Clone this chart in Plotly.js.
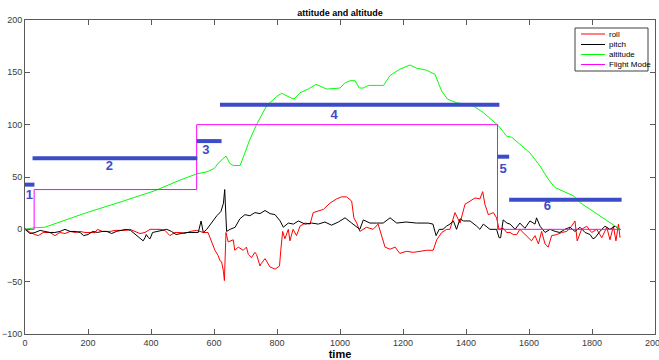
<!DOCTYPE html>
<html>
<head>
<meta charset="utf-8">
<script src="https://cdn.plot.ly/plotly-3.0.1.min.js"></script>
<style>html,body{margin:0;padding:0;background:#fff;}#chart{width:659px;height:360px;}</style>
</head>
<body>
<div id="chart"></div>
<script>
// ---- data ----
const rollX = [0,16,32,42,58,79,95,111,127,143,159,175,190,206,222,230,246,270,286,302,320,333,349,365,381,397,413,429,444,460,476,492,508,524,545,566,581,587,603,613,619,624,630,633,636,638,645,651,661,666,677,693,703,709,719,730,735,746,749,762,778,794,808,812,818,825,836,841,851,862,873,889,905,915,947,968,989,1005,1021,1037,1044,1053,1063,1084,1105,1121,1132,1143,1159,1175,1190,1211,1233,1254,1275,1296,1307,1323,1339,1349,1365,1381,1397,1413,1429,1444,1453,1460,1471,1487,1497,1505,1519,1529,1540,1550,1561,1571,1593,1608,1619,1630,1640,1651,1661,1672,1688,1704,1720,1735,1746,1753,1767,1783,1799,1815,1831,1847,1857,1868,1876,1884,1889];
const rollY = [1,-3,-5,-6,-3,-3,-6,-3,-4,-2,-3,-2,-3,-3,-3,0,-2,-2,-1,-1,-1,0,-2,-4,-3,0,0,0,-1,-6,-3,-3,-4,-2,-1,-3,-3,-8,-20,-25,-30,-31,-40,-49,-20,-3,-12,-11,-10,-20,-17,-20,-17,-24,-27,-22,-24,-35,-33,-28,-36,-38,-35,-20,-2,-9,0,-11,0,-6,3,6,5,16,19,25,29,31,31,27,11,6,-2,2,0,5,-6,-17,-19,-17,-23,-21,-22,-21,-20,-20,-10,-3,0,0,16,6,24,27,30,29,36,24,14,16,11,0,1,-3,-3,-5,-5,0,-6,-11,-6,-14,-2,-14,-17,-6,-5,-3,-2,3,8,-11,0,3,-3,0,-8,2,-10,3,-11,5,-8];

const pitchX = [0,16,32,48,63,79,95,111,127,143,159,175,186,200,215,230,245,260,275,290,305,320,335,350,365,375,381,385,392,397,405,420,435,450,465,480,495,510,530,550,559,566,577,592,609,622,630,634,637,640,651,667,682,698,714,730,746,762,778,794,810,820,836,852,868,889,910,931,952,973,995,1016,1037,1063,1074,1095,1116,1137,1159,1180,1210,1243,1280,1295,1305,1315,1327,1338,1349,1360,1370,1381,1392,1413,1434,1444,1455,1476,1497,1505,1510,1518,1530,1540,1556,1571,1587,1603,1619,1624,1635,1651,1667,1683,1698,1714,1730,1746,1762,1778,1794,1803,1810,1825,1841,1857,1873,1889];
const pitchY = [0,-4,-3,-1,-2,-3,-3,-2,0,-2,-2,-3,-6,-5,-2,-3,-2,-2,-4,-2,-1,0,-1,-5,-9,-11,-8,-5,-8,-9,-3,-2,-1,0,-2,-5,-4,-3,-3,-3,8,-3,0,6,13,17,25,38,16,-2,0,2,10,14,13,16,15,18,15,14,8,2,6,5,8,5,6,5,7,4,7,11,6,0,9,6,6,6,11,6,7,6,6,5,-6,0,0,3,5,8,0,10,8,8,3,0,5,0,0,-8,-8,9,6,5,0,6,1,8,5,11,3,-3,0,-2,-3,0,2,-2,2,-3,-5,-9,-8,-2,3,0,3,0];

const altX = [0,30,63,111,196,302,413,492,545,578,600,616,638,650,661,683,714,735,767,799,815,841,854,873,899,924,958,1000,1016,1032,1048,1061,1074,1090,1138,1159,1190,1222,1243,1275,1302,1312,1323,1341,1370,1423,1455,1503,1529,1545,1571,1603,1635,1661,1682,1714,1741,1762,1794,1836,1868,1889];
const altY = [0,1.5,2,7,16,26,37,47,53,55,58,64,70,63,61,61,86,100,118,127,130,126,124.5,130.5,134,138.5,134,135,140,142,142,135,135,137.5,137.5,147,153,157,154,152,148,140,132,124.5,121,118,111.5,99,89,88,81,73,60.5,48,40,35.6,32,25.5,19,11,4.8,0];

const modeX = [0,29,29,545,545,1500,1500,1892];
const modeY = [0,0,38,38,100,100,0,0];

// flight phase segments (blue bars) and their labels
const phaseNames = ["1","2","3","4","5","6"];
const phaseStart = [0,24,545,619,1500,1537];
const phaseEnd   = [30,547,624,1506,1537,1894];
const phaseLevel = [42.7,68,84.3,119,69.4,28.3];
const labelX = [14,268,574,981,1518,1658];
const labelY = [32,59.5,74.8,109,57,21.3];

const seriesNames = ["roll","pitch","altitude","Flight Mode"];
const seriesColors = ["#ff0000","#000000","#00ff00","#ff00ff"];

const xTicks = [0,200,400,600,800,1000,1200,1400,1600,1800,2000];
const yTicks = [-100,-50,0,50,100,150,200];

// ---- build traces ----
const barX = [], barY = [];
for (let i = 0; i < phaseNames.length; i++) {
  barX.push(phaseStart[i], phaseEnd[i], null);
  barY.push(phaseLevel[i], phaseLevel[i], null);
}
const BLUE = "#3c4bc8";
const FONT = "Liberation Sans, Arial, sans-serif";

const seriesData = [[rollX, rollY],[pitchX, pitchY],[altX, altY],[modeX, modeY]];
const traces = seriesData.map((d, i) => ({
  x: d[0], y: d[1], name: seriesNames[i], type: "scatter", mode: "lines",
  line: {color: seriesColors[i], width: 1}, showlegend: false
}));
traces.push(
  {x: barX, y: barY, type: "scatter", mode: "lines", showlegend: false, hoverinfo: "skip", line: {color: BLUE, width: 4}},
  {x: labelX, y: labelY, text: phaseNames, type: "scatter", mode: "text", showlegend: false, hoverinfo: "skip",
   textfont: {family: FONT, size: 13, color: BLUE, weight: "bold"}}
);

// ---- legend box (MATLAB style) drawn in paper coordinates ----
const M = {l: 25, r: 4, t: 20, b: 26};
const W = 659, H = 360;
const pw = W - M.l - M.r, ph = H - M.t - M.b;
const px2x = p => (p - M.l) / pw;
const py2y = p => (H - M.b - p) / ph;
const shapes = [{type: "rect", xref: "paper", yref: "paper",
  x0: px2x(575), x1: px2x(648), y0: py2y(71), y1: py2y(28),
  line: {color: "#404040", width: 1}, fillcolor: "#ffffff", layer: "above"}];
const annotations = [];
const rowsPx = [34, 44.5, 54.5, 64.5];
seriesNames.forEach((n, i) => {
  shapes.push({type: "line", xref: "paper", yref: "paper",
    x0: px2x(581), x1: px2x(605), y0: py2y(rowsPx[i]), y1: py2y(rowsPx[i]),
    line: {color: seriesColors[i], width: 1}, layer: "above"});
  annotations.push({xref: "paper", yref: "paper", x: px2x(607), y: py2y(rowsPx[i]),
    xanchor: "left", yanchor: "middle", text: n, showarrow: false,
    font: {family: FONT, size: 8, color: "#000"}});
});

const axisCommon = {
  showline: true, linecolor: "#5a5a5a", linewidth: 1, mirror: "ticks",
  ticks: "inside", ticklen: 5, tickcolor: "#5a5a5a", tickwidth: 1,
  showgrid: false, zeroline: false, ticklabeloverflow: "allow",
  tickfont: {family: FONT, size: 9, color: "#3a3a3a"}
};

const layout = {
  width: W, height: H,
  margin: {l: M.l, r: M.r, t: M.t, b: M.b, pad: 0},
  paper_bgcolor: "#ffffff", plot_bgcolor: "#ffffff",
  font: {family: FONT},
  title: {text: "<b>attitude and altitude</b>", font: {family: FONT, size: 9, color: "#000"},
          xref: "paper", x: 0.5, xanchor: "center", yref: "container", y: 0.964, yanchor: "middle"},
  xaxis: Object.assign({}, axisCommon, {range: [0, 2000], tickvals: xTicks, autorange: false,
          title: {text: "<b>time</b>", font: {family: FONT, size: 11, color: "#000"}, standoff: 2}}),
  yaxis: Object.assign({}, axisCommon, {range: [-100, 200], tickvals: yTicks, autorange: false}),
  shapes: shapes,
  annotations: annotations,
  showlegend: false
};

Plotly.newPlot("chart", traces, layout, {displayModeBar: false, staticPlot: true});
</script>
</body>
</html>
